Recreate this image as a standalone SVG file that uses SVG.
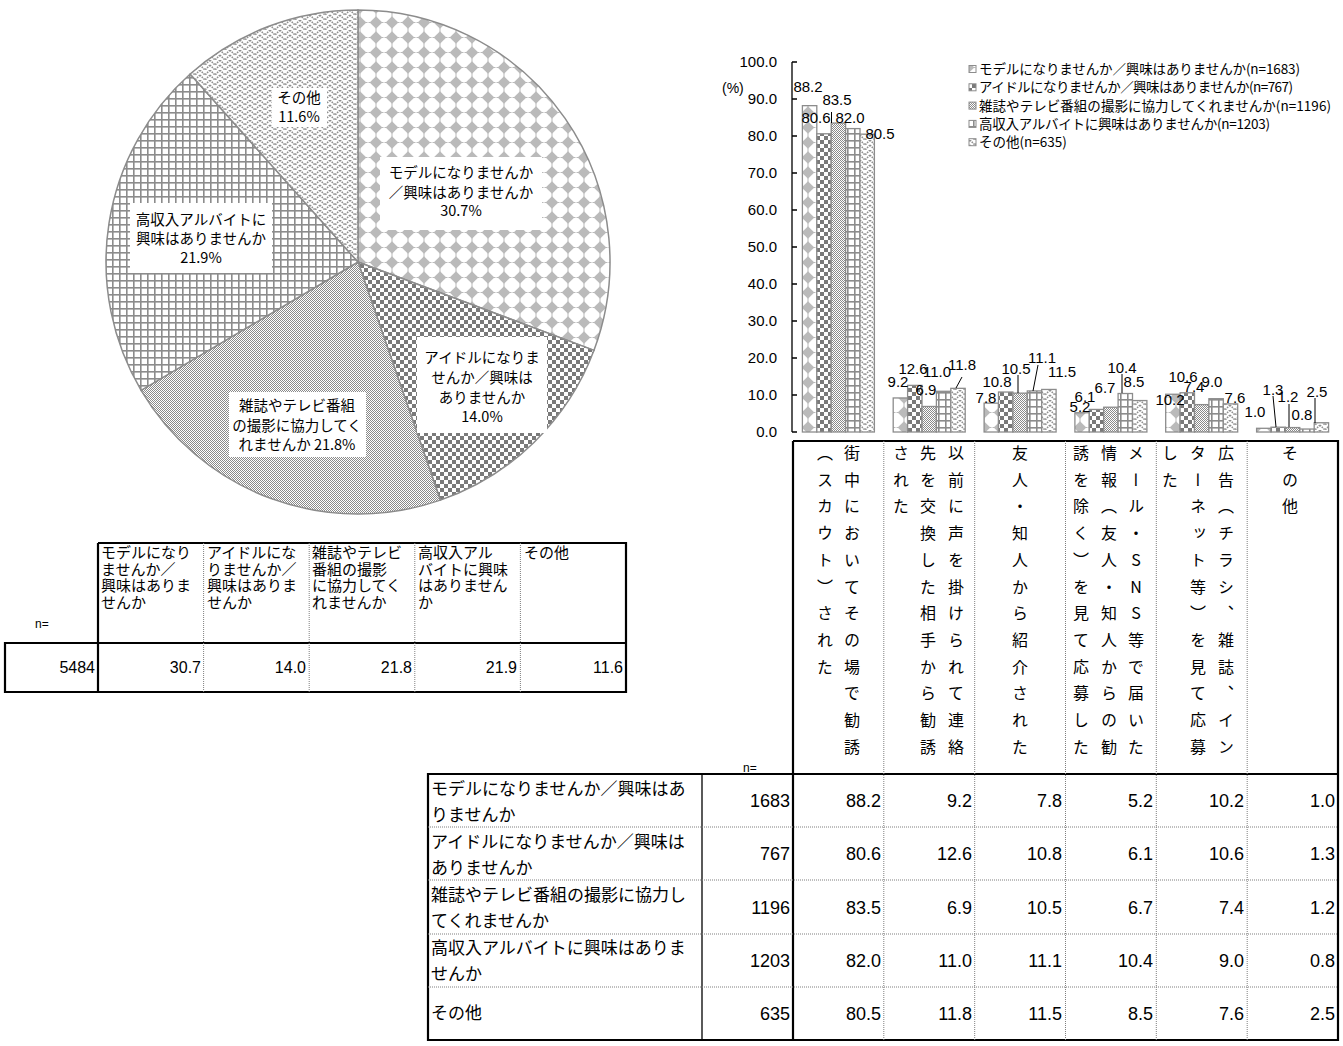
<svg xmlns="http://www.w3.org/2000/svg" width="1343" height="1046" viewBox="0 0 1343 1046">
<style>
.jp{font-family:"Noto Sans CJK JP","Noto Sans CJK SC",sans-serif;fill:#000}
.num{font-family:"Liberation Sans",Arial,sans-serif;fill:#000}
.pl{font-size:14.5px;text-anchor:middle}
.ax{font-size:15px;text-anchor:end}
.dl{font-size:15px;text-anchor:middle}
.lg{font-size:13.5px}
.vt{font-size:16px;writing-mode:vertical-rl;text-orientation:upright;letter-spacing:10.7px}
.th{stroke:#000;stroke-width:2.2;fill:none}
.tn{stroke:#000;stroke-width:1.3;fill:none}
.dt{stroke:#7f7f7f;stroke-width:1;stroke-dasharray:1 1;fill:none}
.sl{stroke:#8c8c8c;stroke-width:1.5}
.bar{stroke:#8c8c8c;stroke-width:1.3}
.lead{stroke:#000;stroke-width:1;fill:none}
.box{fill:#fff}
</style>
<defs>
<pattern id="pM" patternUnits="userSpaceOnUse" width="16" height="15">
<rect width="16" height="15" fill="#fff"/>
<polygon points="8,1.2 14.3,7.5 8,13.8 1.7,7.5" fill="#bababa"/>
<rect x="0.5" y="7" width="15" height="1" fill="#bababa"/>
<rect x="7.5" y="0" width="1" height="15" fill="#bababa"/>
</pattern>
<pattern id="pI" patternUnits="userSpaceOnUse" width="8" height="8">
<rect width="8" height="8" fill="#fff"/>
<rect width="4" height="4" fill="#7a7a7a"/>
<rect x="4" y="4" width="4" height="4" fill="#7a7a7a"/>
</pattern>
<pattern id="pG" patternUnits="userSpaceOnUse" width="2" height="2">
<rect width="2" height="2" fill="#fff"/>
<rect width="1" height="1" fill="#8a8a8a"/>
<rect x="1" y="1" width="1" height="1" fill="#8a8a8a"/>
</pattern>
<pattern id="pH" patternUnits="userSpaceOnUse" width="7" height="7">
<rect width="7" height="7" fill="#fff"/>
<rect width="7" height="1.6" fill="#8c8c8c"/>
<rect width="1.6" height="7" fill="#8c8c8c"/>
</pattern>
<pattern id="pO" patternUnits="userSpaceOnUse" width="10" height="10">
<rect width="10" height="10" fill="#fff"/>
<path d="M0,0 L5,5 L10,0 M0,5 L5,10 L10,5" stroke="#8e8e8e" stroke-width="1.6" stroke-dasharray="1.5 1" fill="none"/>
</pattern>
</defs>

<g id="pie">
<path class="sl" fill="url(#pM)" d="M358,262 L358,10 A252,252 0 0 1 594.01,350.33 Z"/>
<path class="sl" fill="url(#pI)" d="M358,262 L594.01,350.33 A252,252 0 0 1 440.38,500.16 Z"/>
<path class="sl" fill="url(#pG)" d="M358,262 L440.38,500.16 A252,252 0 0 1 141.09,390.28 Z"/>
<path class="sl" fill="url(#pH)" d="M358,262 L141.09,390.28 A252,252 0 0 1 190.16,74.03 Z"/>
<path class="sl" fill="url(#pO)" d="M358,262 L190.16,74.03 A252,252 0 0 1 358,10 Z"/>
</g>
<g id="pie-labels">
<rect class="box" x="380" y="157" width="162" height="73"/>
<text class="jp pl" x="461" y="178">モデルになりませんか</text>
<text class="jp pl" x="461" y="198">／興味はありませんか</text>
<text class="jp pl" x="461" y="216">30.7%</text>
<rect class="box" x="272" y="88" width="55" height="39"/>
<text class="jp pl" x="299" y="103">その他</text>
<text class="jp pl" x="299" y="122">11.6%</text>
<rect class="box" x="130" y="203" width="142" height="70"/>
<text class="jp pl" x="201" y="225">高収入アルバイトに</text>
<text class="jp pl" x="201" y="244">興味はありませんか</text>
<text class="jp pl" x="201" y="263">21.9%</text>
<rect class="box" x="417" y="337" width="130" height="96"/>
<text class="jp pl" x="482" y="363">アイドルになりま</text>
<text class="jp pl" x="482" y="383">せんか／興味は</text>
<text class="jp pl" x="482" y="403">ありませんか</text>
<text class="jp pl" x="482" y="422">14.0%</text>
<rect class="box" x="229" y="392" width="137" height="65"/>
<text class="jp pl" x="297" y="411">雑誌やテレビ番組</text>
<text class="jp pl" x="297" y="431">の撮影に協力してく</text>
<text class="jp pl" x="297" y="450">れませんか  21.8%</text>
</g>

<g id="pie-table">
<path class="th" d="M98,543 H626 V692 H5 V643 H626 M98,543 V692"/>
<path class="dt" d="M203.6,543 V692 M309.2,543 V692 M414.8,543 V692 M520.4,543 V692"/>
<g class="jp" font-size="15">
<text x="101" y="558">モデルになり</text><text x="101" y="574.5">ませんか／</text><text x="101" y="591">興味はありま</text><text x="101" y="607.5">せんか</text>
<text x="207" y="558">アイドルにな</text><text x="207" y="574.5">りませんか／</text><text x="207" y="591">興味はありま</text><text x="207" y="607.5">せんか</text>
<text x="312" y="558">雑誌やテレビ</text><text x="312" y="574.5">番組の撮影</text><text x="312" y="591">に協力してく</text><text x="312" y="607.5">れませんか</text>
<text x="418" y="558">高収入アル</text><text x="418" y="574.5">バイトに興味</text><text x="418" y="591">はありません</text><text x="418" y="607.5">か</text>
<text x="524" y="558">その他</text>
</g>
<text class="num" x="35" y="628" font-size="12">n=</text>
<g class="num" font-size="16" text-anchor="end">
<text x="95" y="673">5484</text><text x="201" y="673">30.7</text><text x="306" y="673">14.0</text><text x="412" y="673">21.8</text><text x="517" y="673">21.9</text><text x="623" y="673">11.6</text>
</g>
</g>

<g id="axis">
<path class="tn" d="M792,62 V432 M792,62 H797 M792,99 H797 M792,136 H797 M792,173 H797 M792,210 H797 M792,247 H797 M792,284 H797 M792,321 H797 M792,358 H797 M792,395 H797 M792,432 H797"/>
<g class="num ax">
<text x="777" y="67">100.0</text><text x="777" y="104">90.0</text><text x="777" y="141">80.0</text><text x="777" y="178">70.0</text><text x="777" y="215">60.0</text><text x="777" y="252">50.0</text><text x="777" y="289">40.0</text><text x="777" y="326">30.0</text><text x="777" y="363">20.0</text><text x="777" y="400">10.0</text><text x="777" y="437">0.0</text>
</g>
<text class="num" x="722" y="93" font-size="14">(%)</text>
</g>

<g id="bars">
<g fill="url(#pM)" class="bar">
<rect x="802.4" y="105.66" width="14.4" height="326.34"/><rect x="893.2" y="397.96" width="14.4" height="34.04"/><rect x="984.1" y="403.14" width="14.4" height="28.86"/><rect x="1074.9" y="412.76" width="14.4" height="19.24"/><rect x="1165.7" y="394.26" width="14.4" height="37.74"/><rect x="1256.6" y="428.3" width="14.4" height="3.7"/>
</g>
<g fill="url(#pI)" class="bar">
<rect x="816.8" y="133.78" width="14.4" height="298.22"/><rect x="907.6" y="385.38" width="14.4" height="46.62"/><rect x="998.5" y="392.04" width="14.4" height="39.96"/><rect x="1089.3" y="409.43" width="14.4" height="22.57"/><rect x="1180.1" y="392.78" width="14.4" height="39.22"/><rect x="1271.0" y="427.19" width="14.4" height="4.81"/>
</g>
<g fill="url(#pG)" class="bar">
<rect x="831.2" y="123.05" width="14.4" height="308.95"/><rect x="922.0" y="406.47" width="14.4" height="25.53"/><rect x="1012.9" y="393.15" width="14.4" height="38.85"/><rect x="1103.7" y="407.21" width="14.4" height="24.79"/><rect x="1194.5" y="404.62" width="14.4" height="27.38"/><rect x="1285.4" y="427.56" width="14.4" height="4.44"/>
</g>
<g fill="url(#pH)" class="bar">
<rect x="845.6" y="128.6" width="14.4" height="303.4"/><rect x="936.4" y="391.3" width="14.4" height="40.7"/><rect x="1027.3" y="390.93" width="14.4" height="41.07"/><rect x="1118.1" y="393.52" width="14.4" height="38.48"/><rect x="1208.9" y="398.7" width="14.4" height="33.3"/><rect x="1299.8" y="429.04" width="14.4" height="2.96"/>
</g>
<g fill="url(#pO)" class="bar">
<rect x="860.0" y="134.15" width="14.4" height="297.85"/><rect x="950.8" y="388.34" width="14.4" height="43.66"/><rect x="1041.7" y="389.45" width="14.4" height="42.55"/><rect x="1132.5" y="400.55" width="14.4" height="31.45"/><rect x="1223.3" y="403.88" width="14.4" height="28.12"/><rect x="1314.2" y="422.75" width="14.4" height="9.25"/>
</g>
</g>

<g id="leaders">
<path class="lead" d="M831.5,112 V123 M962,377 L956,388 M1018,375 V393 M1038,365 L1033,391 M1122,374 V393 M1273,396 L1276,427 M1289,404 V427 M1315,398 V423"/>
</g>

<g id="data-labels" class="num dl">
<text x="808" y="92">88.2</text><text x="837" y="105">83.5</text><text x="816" y="123">80.6</text><text x="850" y="123">82.0</text><text x="880" y="139">80.5</text>
<text x="898" y="387">9.2</text><text x="913" y="374">12.6</text><text x="926" y="395">6.9</text><text x="937" y="377">11.0</text><text x="962" y="370">11.8</text>
<text x="986" y="403">7.8</text><text x="997" y="387">10.8</text><text x="1016" y="374">10.5</text><text x="1042" y="363">11.1</text><text x="1062" y="377">11.5</text>
<text x="1080" y="412">5.2</text><text x="1085" y="402">6.1</text><text x="1105" y="393">6.7</text><text x="1122" y="373">10.4</text><text x="1134" y="387">8.5</text>
<text x="1170" y="405">10.2</text><text x="1183" y="382">10.6</text><text x="1194" y="392">7.4</text><text x="1212" y="387">9.0</text><text x="1235" y="403">7.6</text>
<text x="1255" y="417">1.0</text><text x="1273" y="395">1.3</text><text x="1288" y="402">1.2</text><text x="1302" y="420">0.8</text><text x="1317" y="397">2.5</text>
</g>

<g id="legend">
<rect x="969" y="65.5" width="7" height="7" fill="url(#pM)" stroke="#8c8c8c"/>
<rect x="969" y="83.8" width="7" height="7" fill="url(#pI)" stroke="#8c8c8c"/>
<rect x="969" y="102.1" width="7" height="7" fill="url(#pG)" stroke="#8c8c8c"/>
<rect x="969" y="120.4" width="7" height="7" fill="url(#pH)" stroke="#8c8c8c"/>
<rect x="969" y="138.7" width="7" height="7" fill="url(#pO)" stroke="#8c8c8c"/>
<text class="jp lg" x="979" y="74" textLength="321">モデルになりませんか／興味はありませんか(n=1683)</text>
<text class="jp lg" x="979" y="92.3" textLength="314">アイドルになりませんか／興味はありませんか(n=767)</text>
<text class="jp lg" x="979" y="110.6" textLength="352">雑誌やテレビ番組の撮影に協力してくれませんか(n=1196)</text>
<text class="jp lg" x="979" y="128.9" textLength="291">高収入アルバイトに興味はありませんか(n=1203)</text>
<text class="jp lg" x="979" y="147.2">その他(n=635)</text>
</g>

<g id="bar-table">
<path class="th" d="M793,441 H1338 V1040 H428 V774 H1338 M793,441 V1040"/>
<path class="tn" d="M702,774 V1040"/>
<path class="dt" d="M883.8,441 V1040 M974.7,441 V1040 M1065.5,441 V1040 M1156.3,441 V1040 M1247.2,441 V1040 M428,827 H1338 M428,880 H1338 M428,934 H1338 M428,987 H1338"/>
<g class="jp vt">
<text x="825" y="445">（スカウト）された</text>
<text x="852" y="445">街中においてその場で勧誘</text>
<text x="901" y="445">された</text>
<text x="928" y="445">先を交換した相手から勧誘</text>
<text x="956" y="445">以前に声を掛けられて連絡</text>
<text x="1020" y="445">友人・知人から紹介された</text>
<text x="1081" y="445">誘を除く）を見て応募した</text>
<text x="1109" y="445">情報（友人・知人からの勧</text>
<text x="1136" y="445">メール・SNS等で届いた</text>
<text x="1170" y="445">した</text>
<text x="1198" y="445">ターネット等）を見て応募</text>
<text x="1226" y="445">広告（チラシ、雑誌、イン</text>
<text x="1290" y="445">その他</text>
</g>
<text class="num" x="743" y="772" font-size="12">n=</text>
<g class="jp" font-size="17">
<text x="431" y="795">モデルになりませんか／興味はあ</text><text x="431" y="821">りませんか</text>
<text x="431" y="848">アイドルになりませんか／興味は</text><text x="431" y="874">ありませんか</text>
<text x="431" y="901">雑誌やテレビ番組の撮影に協力し</text><text x="431" y="927">てくれませんか</text>
<text x="431" y="954">高収入アルバイトに興味はありま</text><text x="431" y="980">せんか</text>
<text x="431" y="1019">その他</text>
</g>
<g class="num" font-size="18" text-anchor="end">
<text x="790" y="807">1683</text><text x="881" y="807">88.2</text><text x="972" y="807">9.2</text><text x="1062" y="807">7.8</text><text x="1153" y="807">5.2</text><text x="1244" y="807">10.2</text><text x="1335" y="807">1.0</text>
<text x="790" y="860">767</text><text x="881" y="860">80.6</text><text x="972" y="860">12.6</text><text x="1062" y="860">10.8</text><text x="1153" y="860">6.1</text><text x="1244" y="860">10.6</text><text x="1335" y="860">1.3</text>
<text x="790" y="914">1196</text><text x="881" y="914">83.5</text><text x="972" y="914">6.9</text><text x="1062" y="914">10.5</text><text x="1153" y="914">6.7</text><text x="1244" y="914">7.4</text><text x="1335" y="914">1.2</text>
<text x="790" y="967">1203</text><text x="881" y="967">82.0</text><text x="972" y="967">11.0</text><text x="1062" y="967">11.1</text><text x="1153" y="967">10.4</text><text x="1244" y="967">9.0</text><text x="1335" y="967">0.8</text>
<text x="790" y="1020">635</text><text x="881" y="1020">80.5</text><text x="972" y="1020">11.8</text><text x="1062" y="1020">11.5</text><text x="1153" y="1020">8.5</text><text x="1244" y="1020">7.6</text><text x="1335" y="1020">2.5</text>
</g>
</g>
</svg>
